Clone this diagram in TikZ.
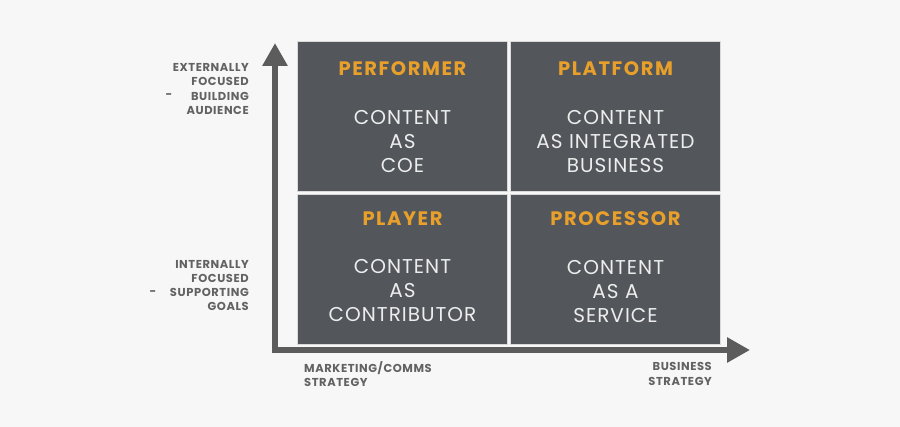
\documentclass[tikz,border=0pt]{standalone}
\usepackage{fontspec}
\setmainfont{Poppins}
\usetikzlibrary{positioning, arrows.meta, calc}
\definecolor{quadfill}{HTML}{53565B}
\definecolor{gold}{HTML}{E8A02A}
\definecolor{axisgrey}{HTML}{5C5C5C}
\definecolor{labelgrey}{HTML}{626262}

\begin{document}
\begin{tikzpicture}[x=1pt, y=-1pt,
    quadrant/.style={draw=black!15, line width=1pt, fill=quadfill,
        minimum width=210pt, minimum height=150pt, inner sep=0pt},
    heading/.style={font=\bfseries\fontsize{19.5}{19.5}\selectfont\addfontfeatures{LetterSpace=8},
        text=gold},
    body/.style={font=\fontsize{20}{24}\selectfont\addfontfeatures{LetterSpace=5},
        text=white!93!black, align=center},
    axislabel/.style={font=\bfseries\fontsize{11.5}{14.3}\selectfont\addfontfeatures{LetterSpace=5},
        text=labelgrey, inner sep=0pt},
    axis/.style={line width=6pt, draw=axisgrey, line join=miter,
        {Triangle[length=23pt, width=24pt]}-{Triangle[length=23pt, width=24pt]}}]
    \useasboundingbox[fill=white!97!black] (0,0) rectangle (900,427);

    % axes
    \coordinate (top) at (275,43);
    \coordinate (corner) at (275,350);
    \coordinate (right) at (750,350);
    \draw[axis] (top) -- (corner) -- (right);

    % quadrants
    \node[quadrant] (performer) at (402.5,117) {};
    \node[quadrant, right=2pt of performer] (platform) {};
    \node[quadrant, below=2pt of performer] (player) {};
    \node[quadrant, right=2pt of player] (processor) {};

    \foreach \q/\head/\txt/\hy/\by in {performer/PERFORMER/{CONTENT\\AS\\COE}/27/100,
                               platform/PLATFORM/{CONTENT\\AS INTEGRATED\\BUSINESS}/27/100,
                               player/PLAYER/{CONTENT\\AS\\CONTRIBUTOR}/24/96,
                               processor/PROCESSOR/{CONTENT\\AS A\\SERVICE}/24/97}{
        \node[heading] (\q-head) at ($(\q.north)+(0,\hy)$) {\head};
        \node[body] (\q-body) at ($(\q.north)+(0,\by)$) {\txt};
    }

    % axis labels
    \node[axislabel, align=right, anchor=east] (external) at (249,89)
        {EXTERNALLY\\FOCUSED\\BUILDING\\AUDIENCE};
    \node[axislabel] (external-dash) at (169,96) {-};
    \node[axislabel, align=right, anchor=east] (internal) at (249,285.5)
        {INTERNALLY\\FOCUSED\\SUPPORTING\\GOALS};
    \node[axislabel] (internal-dash) at (153,293) {-};
    \node[axislabel, align=left, anchor=west] (marketing) at (304,374)
        {MARKETING/COMMS\\STRATEGY};
    \node[axislabel, align=right, anchor=east] (business) at (712,374)
        {BUSINESS\\STRATEGY};
\end{tikzpicture}
\end{document}
